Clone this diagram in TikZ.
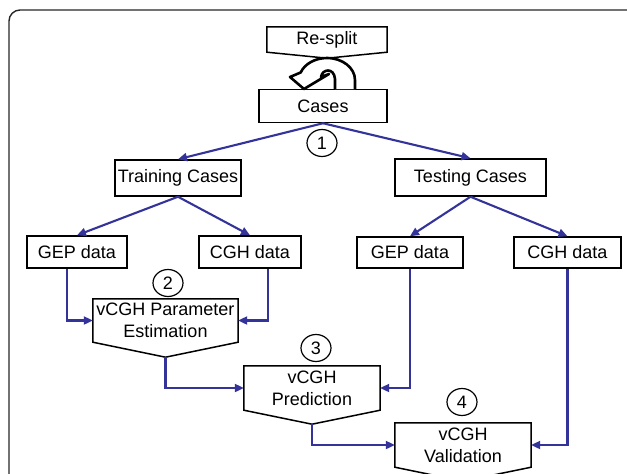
\documentclass[tikz,border=0pt]{standalone}
\usepackage{fontspec}
\setmainfont{Liberation Sans}
\usetikzlibrary{arrows.meta,shapes.geometric}
\definecolor{flowblue}{RGB}{51,51,153}

\begin{document}
\begin{tikzpicture}[x=1pt,y=-1pt,
    box/.style={draw, line width=1.5pt, inner sep=0pt, font=\fontsize{18}{22}\selectfont},
    pent/.style={inner sep=0pt, align=center, font=\fontsize{18}{22}\selectfont},
    flow/.style={draw=flowblue, line width=2.1pt, -{Triangle[length=9pt,width=8pt]}},
    num/.style={ellipse, draw, line width=1.2pt, minimum width=30pt, minimum height=27pt, inner sep=0pt, font=\fontsize{18}{22}\selectfont}]
    \useasboundingbox (0,0) rectangle (627,474);
    \draw [line width=1.4pt, black!85, rounded corners=11pt] (9,480) -- (9,10) -- (630,10);

    % boxes
    \node [pent, minimum width=120pt, minimum height=25pt] (resplit) at (327,39.5) {Re-split};
    \node [box, minimum width=128pt, minimum height=33pt] (cases) at (323,106) {Cases};
    \node [box, minimum width=126pt, minimum height=36pt] (training) at (178,178) {Training Cases};
    \node [box, minimum width=151pt, minimum height=37pt] (testing) at (470.5,177.5) {Testing Cases};
    \node [box, minimum width=100pt, minimum height=32pt] (gepL) at (77,252) {GEP data};
    \node [box, minimum width=102pt, minimum height=32pt] (cghL) at (250,252) {CGH data};
    \node [box, minimum width=106pt, minimum height=31pt] (gepR) at (410,252.5) {GEP data};
    \node [box, minimum width=107pt, minimum height=31pt] (cghR) at (567.5,252.5) {CGH data};
    \node [pent, minimum width=145pt, minimum height=43pt] (estim) at (165.5,320.5) {vCGH Parameter\\Estimation};
    \node [pent, minimum width=136pt, minimum height=44pt] (predict) at (312,388) {vCGH\\Prediction};
    \node [pent, minimum width=136pt, minimum height=44pt] (valid) at (463,445) {vCGH\\Validation};
    \coordinate (resplit tip) at ([yshift=-6]resplit.south);
    \coordinate (estim tip) at ([yshift=-15]estim.south);
    \coordinate (predict tip) at ([yshift=-14]predict.south);
    \coordinate (valid tip) at ([yshift=-14]valid.south);
    \foreach \n in {resplit, estim, predict, valid}
        \draw [line width=1.5pt] (\n.north west) -- (\n.north east) -- (\n.south east)
            -- (\n\space tip) -- (\n.south west) -- cycle;

    % step numbers
    \node [num] (n1) at (322,143) {1};
    \node [num] (n2) at (168,283) {2};
    \node [num] (n3) at (316,348) {3};
    \node [num] (n4) at (462,402) {4};

    % re-split loop
    \draw [line width=2.6pt, fill=white, line join=round] (355,89) -- (355,80)
        arc [start angle=0, end angle=-160, x radius=28, y radius=22]
        -- (290,77) -- (304,89) -- (329,74) -- (321,77)
        .. controls (322,69) and (334,67) .. (335,79) -- (335,89);

    % flow
    \draw [flow] (cases.south) -- (training.north);
    \draw [flow] (cases.south) -- (testing.north);
    \draw [flow] (training.south) -- (gepL.north);
    \draw [flow] (training.south) -- (cghL.north);
    \draw [flow] (testing.south) -- (gepR.north);
    \draw [flow] (testing.south) -- (cghR.north);
    \draw [flow] ([xshift=-10]gepL.south) |- (estim.west);
    \draw [flow] ([xshift=18]cghL.south) |- (estim.east);
    \draw [flow] (estim tip) |- (predict.west);
    \draw [flow] (gepR.south) |- (predict.east);
    \draw [flow] (predict tip) |- (valid.west);
    \draw [flow] (cghR.south) |- (valid.east);
\end{tikzpicture}
\end{document}
